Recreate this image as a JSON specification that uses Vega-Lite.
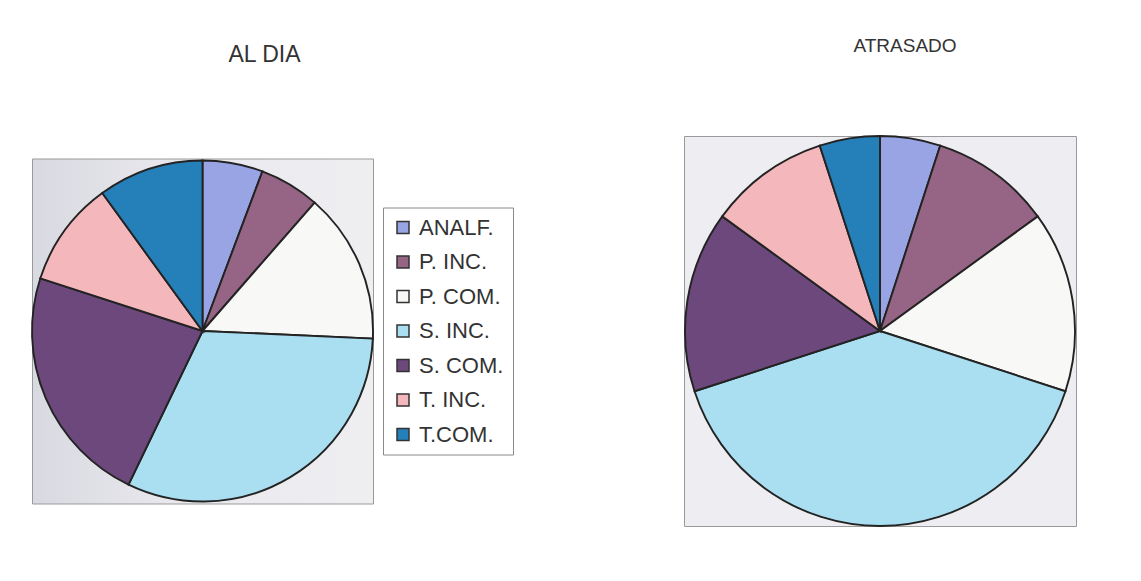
{
  "$schema": "https://vega.github.io/schema/vega-lite/v6.json",
  "background": "white",
  "padding": {"left": 27, "top": 36, "right": 0, "bottom": 0},
  "datasets": {
    "alumnos": [
      {"estado": "AL DIA", "nivel": "ANALF.", "orden": 1, "alumnos": 4},
      {"estado": "AL DIA", "nivel": "P. INC.", "orden": 2, "alumnos": 4},
      {"estado": "AL DIA", "nivel": "P. COM.", "orden": 3, "alumnos": 10},
      {"estado": "AL DIA", "nivel": "S. INC.", "orden": 4, "alumnos": 22},
      {"estado": "AL DIA", "nivel": "S. COM.", "orden": 5, "alumnos": 16},
      {"estado": "AL DIA", "nivel": "T. INC.", "orden": 6, "alumnos": 7},
      {"estado": "AL DIA", "nivel": "T.COM.", "orden": 7, "alumnos": 7},
      {"estado": "ATRASADO", "nivel": "ANALF.", "orden": 1, "alumnos": 1},
      {"estado": "ATRASADO", "nivel": "P. INC.", "orden": 2, "alumnos": 2},
      {"estado": "ATRASADO", "nivel": "P. COM.", "orden": 3, "alumnos": 3},
      {"estado": "ATRASADO", "nivel": "S. INC.", "orden": 4, "alumnos": 8},
      {"estado": "ATRASADO", "nivel": "S. COM.", "orden": 5, "alumnos": 3},
      {"estado": "ATRASADO", "nivel": "T. INC.", "orden": 6, "alumnos": 2},
      {"estado": "ATRASADO", "nivel": "T.COM.", "orden": 7, "alumnos": 1}
    ]
  },
  "config": {
    "font": "Liberation Sans",
    "title": {"font": "Liberation Sans", "fontWeight": "normal", "color": "#333333", "baseline": "alphabetic", "anchor": "middle"}
  },
  "resolve": {"scale": {"color": "independent"}},
  "bounds": "flush",
  "center": true,
  "spacing": 311,
  "hconcat": [
    {
      "width": 341,
      "height": 345,
      "view": {
        "fill": {
          "gradient": "linear", "x1": 0, "y1": 0, "x2": 1, "y2": 0,
          "stops": [
            {"offset": 0, "color": "#d9d9e1"},
            {"offset": 0.45, "color": "#e9e9ee"},
            {"offset": 1, "color": "#efeff2"}
          ]
        },
        "stroke": "#9a9a9a",
        "strokeWidth": 1
      },
      "title": {"text": "AL DIA", "fontSize": 23, "dx": 62, "offset": 90},
      "data": {"name": "alumnos"},
      "transform": [{"filter": "datum.estado === 'AL DIA'"}],
      "mark": {"type": "arc", "stroke": "#232323", "strokeWidth": 1.9},
      "encoding": {
        "theta": {"field": "alumnos", "type": "quantitative", "stack": true},
        "order": {"field": "orden", "type": "quantitative"},
        "color": {
          "field": "nivel",
          "type": "nominal",
          "scale": {
            "domain": ["ANALF.", "P. INC.", "P. COM.", "S. INC.", "S. COM.", "T. INC.", "T.COM."],
            "range": ["#98a4e4", "#966484", "#f8f8f6", "#aadff1", "#6d487c", "#f4b7bb", "#2580ba"]
          },
          "legend": {
            "title": null,
            "orient": "none",
            "legendX": 351,
            "legendY": 49,
            "symbolType": "square",
            "symbolSize": 144,
            "symbolStrokeColor": "#333333",
            "symbolStrokeWidth": 1.5,
            "symbolOpacity": 1,
            "labelFont": "Liberation Sans",
            "labelFontSize": 22,
            "labelColor": "#333333",
            "labelOffset": 5,
            "labelLimit": 300,
            "rowPadding": 12.5,
            "padding": 9,
            "strokeColor": "#8a8a8a",
            "fillColor": "white"
          }
        }
      }
    },
    {
      "width": 392,
      "height": 390,
      "view": {"fill": "#eeeef2", "stroke": "#9a9a9a", "strokeWidth": 1},
      "title": {"text": "ATRASADO", "fontSize": 19, "dx": 25, "offset": 76},
      "data": {"name": "alumnos"},
      "transform": [{"filter": "datum.estado === 'ATRASADO'"}],
      "mark": {"type": "arc", "stroke": "#232323", "strokeWidth": 1.9},
      "encoding": {
        "theta": {"field": "alumnos", "type": "quantitative", "stack": true},
        "order": {"field": "orden", "type": "quantitative"},
        "color": {
          "field": "nivel",
          "type": "nominal",
          "scale": {
            "domain": ["ANALF.", "P. INC.", "P. COM.", "S. INC.", "S. COM.", "T. INC.", "T.COM."],
            "range": ["#98a4e4", "#966484", "#f8f8f6", "#aadff1", "#6d487c", "#f4b7bb", "#2580ba"]
          },
          "legend": null
        }
      }
    }
  ]
}
